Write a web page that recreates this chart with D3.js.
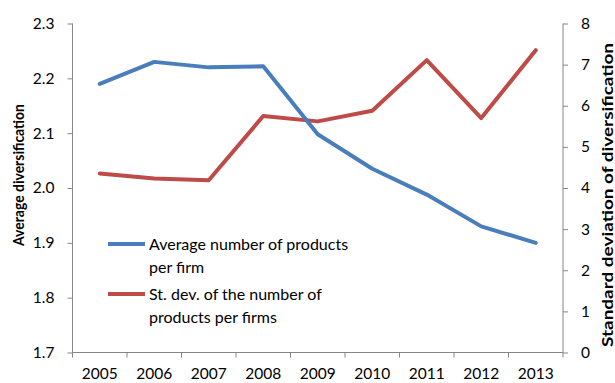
<!DOCTYPE html>
<html>
<head>
<meta charset="utf-8">
<script src="https://cdn.jsdelivr.net/npm/d3@7"></script>
<style>
  html, body { margin: 0; padding: 0; background: #fff; }
  svg { display: block; font-family: Lato, "Open Sans", sans-serif; }
</style>
</head>
<body>
<svg id="chart" width="615" height="383"></svg>
<script>
// Years on the category axis
const years = ["2005", "2006", "2007", "2008", "2009", "2010", "2011", "2012", "2013"];
// Average number of products per firm (left axis)
const avgProducts = [2.19, 2.23, 2.22, 2.222, 2.098, 2.035, 1.988, 1.93, 1.90];
// Standard deviation of the number of products per firm (right axis)
const sdProducts = [4.35, 4.23, 4.19, 5.75, 5.62, 5.88, 7.11, 5.70, 7.35];
// Axis tick values
const leftTicks = [1.7, 1.8, 1.9, 2.0, 2.1, 2.2, 2.3];
const rightTicks = [0, 1, 2, 3, 4, 5, 6, 7, 8];
// Series names for the legend
const seriesNames = [
  ["Average number of products", "per firm"],
  ["St. dev. of the number of", "products per firms"]
];

const svg = d3.select("#chart");
const axisColor = "#868686";
const blue = "#4A7EBB";
const red = "#BE4B48";
const fontSize = 15.5;

const plot = { left: 72.5, right: 563, top: 23.5, bottom: 352.5 };

const x = d3.scaleBand().domain(years).range([plot.left, plot.right]).padding(0);
const yL = d3.scaleLinear().domain([1.7, 2.3]).range([plot.bottom, plot.top]);
const yR = d3.scaleLinear().domain([0, 8]).range([plot.bottom, plot.top]);

// Left axis
const leftAxis = svg.append("g")
  .attr("transform", `translate(${plot.left},0)`)
  .call(d3.axisLeft(yL).tickValues(leftTicks).tickFormat(d3.format(".1f")).tickSize(5).tickPadding(13));

// Right axis
const rightAxis = svg.append("g")
  .attr("transform", `translate(${plot.right},0)`)
  .call(d3.axisRight(yR).tickValues(rightTicks).tickFormat(d3.format("d")).tickSize(5).tickPadding(13));

// Category axis with tick marks between categories
const bottomAxis = svg.append("g")
  .attr("transform", `translate(0,${plot.bottom})`)
  .call(d3.axisBottom(x).tickSize(0));
bottomAxis.selectAll(".tick line").remove();
bottomAxis.selectAll(".tick text").attr("dy", null).attr("y", 26);
const edges = years.map(d => x(d)).concat([x(years[years.length - 1]) + x.bandwidth()]);
bottomAxis.selectAll("line.between")
  .data(edges)
  .join("line")
  .attr("class", "between")
  .attr("x1", d => d).attr("x2", d => d)
  .attr("y1", 0).attr("y2", 5)
  .attr("stroke", axisColor);

[leftAxis, rightAxis, bottomAxis].forEach(g => {
  g.select(".domain").attr("stroke", axisColor).attr("stroke-width", 1);
  g.selectAll(".tick line").attr("stroke", axisColor);
  g.selectAll("text").attr("fill", "#000").style("font-size", fontSize + "px")
    .style("font-family", "Lato, sans-serif");
});
// plain axis lines without outer ticks
leftAxis.select(".domain").attr("d", `M0,${plot.top}V${plot.bottom}`);
rightAxis.select(".domain").attr("d", `M0,${plot.top}V${plot.bottom}`);
bottomAxis.select(".domain").attr("d", `M${plot.left},0H${plot.right}`);

// Lines
const lineL = d3.line().x((d, i) => x(years[i]) + x.bandwidth() / 2).y(d => yL(d));
const lineR = d3.line().x((d, i) => x(years[i]) + x.bandwidth() / 2).y(d => yR(d));

svg.append("path").datum(sdProducts)
  .attr("d", lineR).attr("fill", "none").attr("stroke", red)
  .attr("stroke-width", 4).attr("stroke-linejoin", "round").attr("stroke-linecap", "round");
svg.append("path").datum(avgProducts)
  .attr("d", lineL).attr("fill", "none").attr("stroke", blue)
  .attr("stroke-width", 4).attr("stroke-linejoin", "round").attr("stroke-linecap", "round");

// Axis titles
svg.append("text")
  .attr("transform", "translate(24,175) rotate(-90)")
  .attr("text-anchor", "middle")
  .attr("textLength", 142).attr("lengthAdjust", "spacingAndGlyphs")
  .style("font-size", "15px").style("font-weight", "bold")
  .text("Average diversification");
svg.append("text")
  .attr("transform", "translate(613,195) rotate(-90)")
  .attr("text-anchor", "middle")
  .attr("textLength", 304).attr("lengthAdjust", "spacingAndGlyphs")
  .style("font-size", "15px").style("font-weight", "bold")
  .text("Standard deviation of diversification");

// Legend
const legend = svg.append("g");
const legendRows = [
  { color: blue, y: 244, lines: seriesNames[0], base: 250 },
  { color: red, y: 294, lines: seriesNames[1], base: 300 }
];
legendRows.forEach(r => {
  legend.append("line")
    .attr("x1", 108).attr("x2", 145).attr("y1", r.y).attr("y2", r.y)
    .attr("stroke", r.color).attr("stroke-width", 4);
  r.lines.forEach((t, i) => {
    legend.append("text")
      .attr("x", 149).attr("y", r.base + i * 23)
      .style("font-size", "16px")
      .attr("fill", "#000")
      .text(t);
  });
});
</script>
</body>
</html>
